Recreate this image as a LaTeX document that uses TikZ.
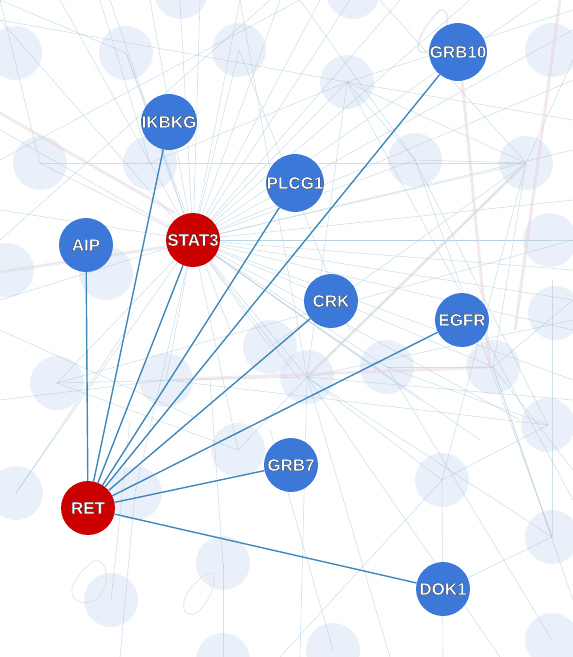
\documentclass[tikz,border=0pt]{standalone}
\usepackage{fontspec}
\setmainfont{Liberation Sans}
\definecolor{nodeblue}{HTML}{3B78D8}
\definecolor{nodered}{HTML}{CC0000}
\definecolor{edgeblue}{HTML}{3E88BA}
\definecolor{bgblue}{HTML}{DCE6F6}
\definecolor{bgline}{HTML}{A9C7DB}
\definecolor{bgpink}{HTML}{E6D3DE}
\definecolor{bggray}{HTML}{DADADA}
\newcommand\glow[1]{{\color{white}\special{pdf:literal direct 0.15 0.15 0.15 RG 0.25 w 1 j 2 Tr}#1\special{pdf:literal direct 0 Tr}}}
\begin{document}
\begin{tikzpicture}[x=1pt,y=-1pt,
  gene/.style={circle,minimum size=54pt,inner sep=0pt,fill=nodeblue,
    font=\fontsize{17}{18}\selectfont\bfseries},
  hub/.style={gene,fill=nodered},
  edge/.style={draw=edgeblue,line width=1.4pt},
  bgedge/.style={draw=bgline,line width=0.6pt,draw opacity=0.55},
  bgthick/.style={line width=3pt,draw opacity=0.5}]
\useasboundingbox (0,0) rectangle (573,657);
% background circles
\foreach \x/\y in {15/53,126/53,239/50,347/82,181/-8,353/-8,40/163,150/163,
  415/160,526/163,552/50,550/240,7/270,106/273,555/313,57/383,166/380,
  270/347,307/377,387/367,493/367,548/425,238/450,442/480,16/493,135/493,
  552/537,223/563,111/600,333/650,552/640,223/660}
  \fill[bgblue,opacity=0.6] (\x,\y) circle (27);
% background faint lines: hub rays from STAT3
\foreach \x/\y in {0/20,60/0,110/0,150/0,180/0,200/0,240/0,280/0,320/0,350/0,
  400/0,470/0,540/0,573/30,573/80,573/150,573/200,573/240,573/270,573/330,
  573/380,520/420,480/440,420/400,380/370,300/380,0/130,0/300,40/163,
  126/53,239/50,347/82,415/160,526/163,550/240,307/377,387/367,0/210,
  270/347,238/450,166/380,57/383,16/493,135/493,493/367,573/300}
  \draw[bgedge] (193,240) -- (\x,\y);
% other faint lines
\foreach \ax/\ay/\bx/\by in {347/82/0/20,347/82/573/10,347/82/307/377,347/82/415/160,
  347/82/526/163,347/82/150/163,347/82/573/120,526/163/307/377,
  526/163/415/160,526/163/573/60,526/163/150/163,526/163/493/367,
  526/163/380/0,526/163/442/480,526/163/270/347,415/160/548/425,
  415/160/300/0,415/160/552/537,307/377/573/320,307/377/573/400,
  307/377/552/537,307/377/57/383,307/377/238/450,307/377/442/480,
  307/377/240/0,307/377/300/657,493/367/573/300,493/367/387/367,
  493/367/552/537,493/367/573/470,548/425/387/367,548/425/166/380,
  548/425/442/480,552/537/443/590,552/537/552/280,552/640/387/367,
  57/383/238/450,57/383/573/240,16/493/126/330,135/493/120/657,
  223/563/210/380,223/563/223/657,111/600/130/420,442/480/443/657,
  442/480/280/657,333/650/270/430,40/163/150/163,40/163/0/0,
  126/53/0/0,126/53/230/330,239/50/350/330,150/163/100/0,
  0/330/200/420,0/400/166/380,390/657/307/377,500/657/307/377,
  573/500/347/82,573/600/493/367,0/160/300/0,0/240/270/0}
  \draw[bgedge] (\ax,\ay) -- (\bx,\by);
\draw[bgthick,bgpink] (0,113) -- (175,213);
\draw[bgthick,bgpink] (462,80) -- (490,367) -- (168,380);
\draw[bgthick,bgpink] (560,0) -- (515,330);
\draw[bgthick,bggray] (0,272) -- (165,247);
\draw[bgthick,bggray] (307,377) -- (526,163);
\draw[bggray,line width=2pt,draw opacity=0.5] (440,10) .. controls (410,40) and (415,60) .. (430,50)
  .. controls (445,40) and (455,10) .. (440,10);
\draw[bggray,line width=1pt,draw opacity=0.6] (205,575) .. controls (170,600) and (185,625) .. (200,610)
  .. controls (215,595) and (220,565) .. (205,575);
\draw[bggray,line width=1pt,draw opacity=0.6] (95,560) .. controls (55,590) and (75,610) .. (95,600)
  .. controls (110,590) and (110,560) .. (95,560);
% main nodes
\node[gene] (GRB10) at (458,52) {\glow{GRB10}};
\node[gene] (IKBKG) at (169,122) {\glow{IKBKG}};
\node[gene] (PLCG1) at (295,183) {\glow{PLCG1}};
\node[hub]  (STAT3) at (193,240) {\glow{STAT3}};
\node[gene] (AIP)   at (86,245)  {\glow{AIP}};
\node[gene] (CRK)   at (331,301) {\glow{CRK}};
\node[gene] (EGFR)  at (462,320) {\glow{EGFR}};
\node[gene] (GRB7)  at (291,465) {\glow{GRB7}};
\node[hub]  (RET)   at (88,508)  {\glow{RET}};
\node[gene] (DOK1)  at (443,589) {\glow{DOK1}};
% edges
\foreach \t in {AIP,IKBKG,STAT3,PLCG1,GRB10,CRK,EGFR,GRB7,DOK1}
  \draw[edge] (RET) -- (\t);
\end{tikzpicture}
\end{document}
